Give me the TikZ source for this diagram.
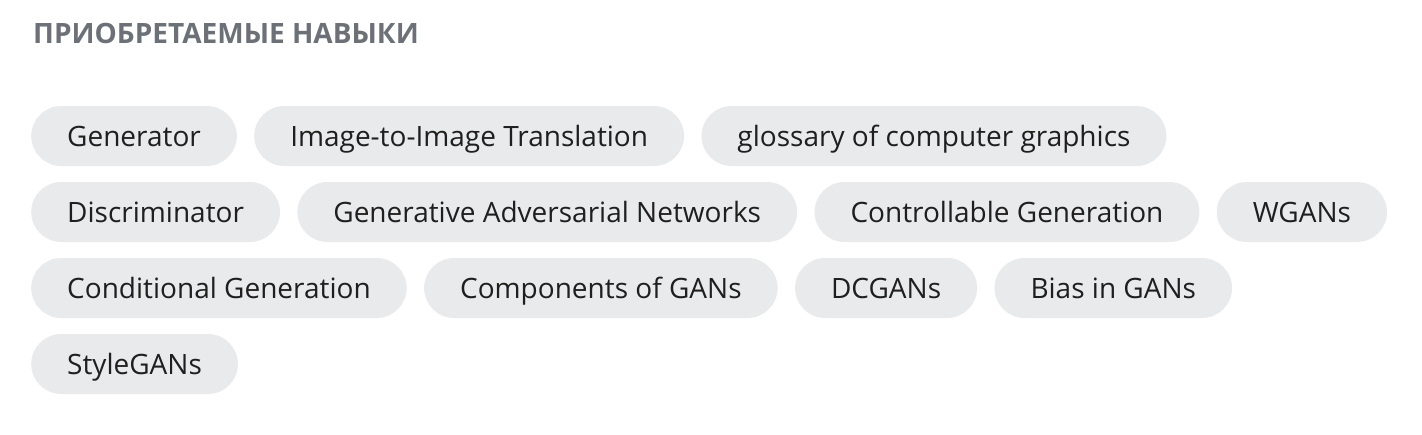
\documentclass[tikz,border=0pt]{standalone}
\usepackage{fontspec}
\setmainfont{Open Sans}
\usetikzlibrary{positioning}
\definecolor{pillgray}{HTML}{E9EAEC}
\definecolor{titlegray}{HTML}{6B7177}
\definecolor{skilltext}{HTML}{1F1F1F}
\begin{document}
\begin{tikzpicture}[x=1pt,y=1pt,node distance=17pt,
    skill/.style={draw=none,fill=pillgray,text=skilltext,rounded corners=30pt,
      minimum height=60pt,inner xsep=36pt,inner ysep=0pt,text height=20pt,text depth=0pt,
      font=\fontsize{28}{33}\selectfont}]
    \useasboundingbox (0,0) rectangle (1422,-434);
    \node[anchor=base west,inner sep=0pt,text=titlegray,font=\bfseries\fontsize{28}{32}\selectfont] (title) at (33,-43) {ПРИОБРЕТАЕМЫЕ НАВЫКИ};
    % row 1
    \node[skill,anchor=west] (gen) at (31,-136) {Generator};
    \node[skill,right=of gen] (imgtr) {Image-to-Image Translation};
    \node[skill,right=of imgtr] (gloss) {glossary of computer graphics};
    % row 2
    \node[skill,anchor=west] (disc) at (31,-212) {Discriminator};
    \node[skill,right=of disc] (gans) {Generative Adversarial Networks};
    \node[skill,right=of gans] (ctrl) {Controllable Generation};
    \node[skill,right=of ctrl] (wgan) {WGANs};
    % row 3
    \node[skill,anchor=west] (cond) at (31,-288) {Conditional Generation};
    \node[skill,right=of cond] (comp) {Components of GANs};
    \node[skill,right=of comp] (dcgan) {DCGANs};
    \node[skill,right=of dcgan] (bias) {Bias in GANs};
    % row 4
    \node[skill,anchor=west] (style) at (31,-364) {StyleGANs};
\end{tikzpicture}
\end{document}
